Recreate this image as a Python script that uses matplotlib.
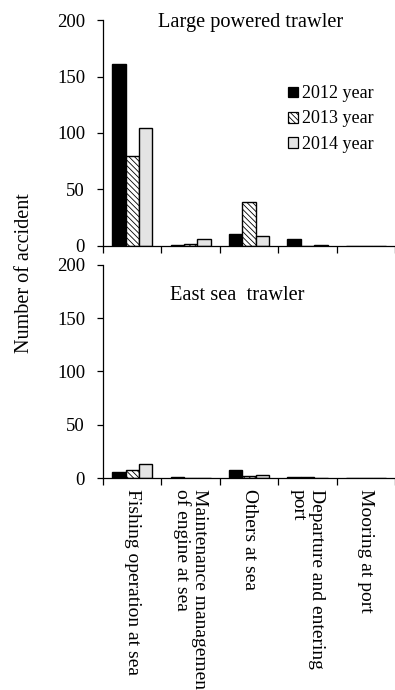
import numpy as np
import matplotlib
matplotlib.use("Agg")
import matplotlib.pyplot as plt
from matplotlib.patches import Patch

plt.rcParams['font.family'] = ['Liberation Serif', 'DejaVu Serif']
plt.rcParams['hatch.linewidth'] = 0.6

# Accident counts by activity, per year
activities = ["Fishing operation at sea",
              "Maintenance management\nof engine at sea",
              "Others at sea",
              "Departure and entering\nport",
              "Mooring at port"]
years = ["2012 year", "2013 year", "2014 year"]

large_2012 = [161, 1, 11, 6, 0]
large_2013 = [80, 2, 39, 0, 0]
large_2014 = [104, 6, 9, 1, 0]

east_2012 = [6, 1, 8, 1, 0]
east_2013 = [8, 0, 2, 1, 0]
east_2014 = [13, 0, 3, 0, 0]

bar_styles = [
    dict(facecolor="black", edgecolor="black"),
    dict(facecolor="white", edgecolor="black", hatch="\\\\\\\\\\\\"),
    dict(facecolor="#e4e4e4", edgecolor="black"),
]

fig = plt.figure(figsize=(3.95, 6.9), dpi=100)
ax_top = fig.add_axes([0.261, 0.6435, 0.739, 0.3275])
ax_bot = fig.add_axes([0.261, 0.3072, 0.739, 0.3088])

x = np.arange(len(activities))
width = 0.23


def draw_panel(ax, series, title, title_xy):
    for i, (vals, style) in enumerate(zip(series, bar_styles)):
        ax.bar(x + (i - 1) * width, vals, width, linewidth=1.0, **style)
    ax.set_xlim(-0.5, 4.367)
    ax.set_ylim(0, 200)
    ax.set_yticks([0, 50, 100, 150, 200])
    ax.tick_params(axis='y', direction='out', length=4, width=0.9,
                   labelsize=13.5, pad=9)
    ax.set_xticks(np.arange(-0.5, 5, 1.0))
    ax.set_xticklabels([])
    ax.tick_params(axis='x', which='major', direction='out', length=5,
                   width=0.9)
    ax.spines['top'].set_visible(False)
    ax.spines['right'].set_visible(False)
    ax.spines['left'].set_linewidth(0.9)
    ax.spines['bottom'].set_linewidth(0.9)
    ax.text(title_xy[0], title_xy[1], title, transform=ax.transAxes,
            ha='center', va='center', fontsize=14.7)


draw_panel(ax_top, [large_2012, large_2013, large_2014],
           "Large powered trawler", (0.507, 0.99))
draw_panel(ax_bot, [east_2012, east_2013, east_2014],
           "East sea  trawler", (0.459, 0.855))

# Category names under the lower panel, reading top to bottom
ax_bot.set_xticks(x, minor=True)
ax_bot.set_xticklabels(activities, minor=True, rotation=-90, va='top',
                       ha='center', fontsize=14, linespacing=1.05)
for lbl in ax_bot.get_xticklabels(minor=True):
    lbl.set_multialignment('left')
ax_bot.tick_params(axis='x', which='minor', length=0, pad=8)

handles = [Patch(label=y, linewidth=0.9, **s) for y, s in zip(years, bar_styles)]
ax_top.legend(handles=handles, loc='center left',
              bbox_to_anchor=(0.634, 0.562), frameon=False, fontsize=13,
              handlelength=0.55, handleheight=0.55, handletextpad=0.2,
              labelspacing=0.45, borderpad=0, borderaxespad=0)

fig.text(25 / 395, 1 - 273.5 / 690, "Number of accident", rotation=90,
         ha='center', va='center', fontsize=14.5)

fig.savefig("out.png", dpi=100)
